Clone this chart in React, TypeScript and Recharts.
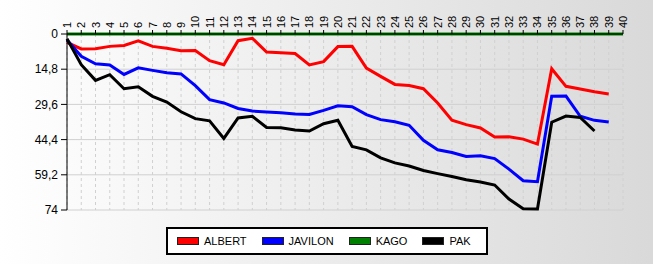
import { LineChart, Line, XAxis, YAxis, CartesianGrid, Legend } from 'recharts';

const categories = [
  '1', '2', '3', '4', '5', '6', '7', '8', '9', '10',
  '11', '12', '13', '14', '15', '16', '17', '18', '19', '20',
  '21', '22', '23', '24', '25', '26', '27', '28', '29', '30',
  '31', '32', '33', '34', '35', '36', '37', '38', '39', '40',
];

const albert = [
  3.5, 6.3, 6.2, 5.2, 4.8, 2.9, 5.2, 6.0, 7.0, 6.9,
  11.2, 12.9, 2.8, 1.8, 7.6, 7.9, 8.2, 13.0, 11.6, 5.3,
  5.2, 14.3, 17.8, 21.2, 21.7, 23.0, 29.0, 36.2, 38.1, 39.5,
  43.3, 43.2, 44.2, 46.3, 14.6, 22.0, 23.1, 24.3, 25.2, null,
];

const javilon = [
  2.5, 9.4, 12.5, 13.0, 17.0, 14.2, 15.3, 16.3, 16.8, 21.7,
  27.6, 29.0, 31.3, 32.4, 32.8, 33.1, 33.6, 33.8, 32.1, 30.2,
  30.6, 33.9, 36.0, 36.9, 38.4, 44.7, 48.7, 49.8, 51.5, 51.2,
  52.4, 56.8, 61.7, 62.1, 26.2, 26.1, 34.6, 36.3, 37.0, null,
];

const kago = [
  0, 0, 0, 0, 0, 0, 0, 0, 0, 0,
  0, 0, 0, 0, 0, 0, 0, 0, 0, 0,
  0, 0, 0, 0, 0, 0, 0, 0, 0, 0,
  0, 0, 0, 0, 0, 0, 0, 0, 0, 0,
];

const pak = [
  2.0, 12.9, 19.5, 17.1, 23.0, 22.2, 26.2, 28.6, 32.7, 35.6,
  36.5, 43.9, 35.3, 34.6, 39.3, 39.4, 40.4, 40.8, 37.7, 36.3,
  47.3, 48.7, 52.1, 54.2, 55.5, 57.4, 58.7, 59.9, 61.3, 62.2,
  63.5, 69.4, 73.5, 73.6, 37.1, 34.5, 35.1, 40.8, null, null,
];

const yTicks = [0, 14.8, 29.6, 44.4, 59.2, 74];

const series = [
  { key: 'ALBERT', color: '#ff0000' },
  { key: 'JAVILON', color: '#0000ff' },
  { key: 'KAGO', color: '#008000' },
  { key: 'PAK', color: '#000000' },
];

const data = categories.map((name, i) => ({
  name,
  ALBERT: albert[i],
  JAVILON: javilon[i],
  KAGO: kago[i],
  PAK: pak[i],
}));

const FONT = '"Liberation Sans", Arial, sans-serif';

const TopTick = ({ x, y, payload }: any) => (
  <text
    x={x + 4}
    y={y - 2}
    transform={`rotate(-90 ${x + 4} ${y - 2})`}
    textAnchor="start"
    fontSize={11}
    fontFamily={FONT}
    fill="#000"
  >
    {payload.value}
  </text>
);

const LegendBox = () => (
  <div
    style={{
      boxSizing: 'border-box',
      width: 322,
      height: 28,
      border: '2px solid #000',
      background: '#fff',
      display: 'flex',
      alignItems: 'center',
      paddingLeft: 9,
      fontFamily: FONT,
      fontSize: 11,
      color: '#000',
    }}
  >
    {series.map((s) => (
      <div key={s.key} style={{ display: 'flex', alignItems: 'center', marginRight: 15 }}>
        <div
          style={{
            boxSizing: 'border-box',
            width: 22,
            height: 8,
            background: s.color,
            border: '1px solid #222',
            marginRight: 5,
          }}
        />
        <span>{s.key}</span>
      </div>
    ))}
  </div>
);

export default function App() {
  return (
    <div
      style={{
        position: 'absolute',
        left: 0,
        top: 0,
        width: 653,
        height: 264,
        background: 'linear-gradient(to right, #ffffff, #d9d9d9)',
      }}
    >
      <LineChart
        width={653}
        height={264}
        data={data}
        margin={{ top: 0, right: 30, bottom: 26, left: 0 }}
      >
        <CartesianGrid stroke="#d0d0d0" horizontal={false} strokeDasharray="3 3" />
        <CartesianGrid stroke="#d0d0d0" vertical={false} />
        <XAxis
          dataKey="name"
          orientation="top"
          height={34}
          interval={0}
          tickSize={4}
          tickMargin={0}
          stroke="#000"
          tick={<TopTick />}
        />
        <YAxis
          reversed
          domain={[0, 74]}
          ticks={yTicks}
          width={67}
          tickSize={6}
          tickMargin={3}
          stroke="#000"
          tick={{ fill: '#000', fontSize: 12, fontFamily: FONT }}
          tickFormatter={(v: number) => String(v).replace('.', ',')}
        />
        <Legend
          verticalAlign="bottom"
          content={<LegendBox />}
          wrapperStyle={{ left: 166, bottom: 9, width: 322 }}
        />
        {series.map((s) => (
          <Line
            key={s.key}
            dataKey={s.key}
            stroke={s.color}
            strokeWidth={3}
            dot={false}
            isAnimationActive={false}
          />
        ))}
      </LineChart>
    </div>
  );
}
